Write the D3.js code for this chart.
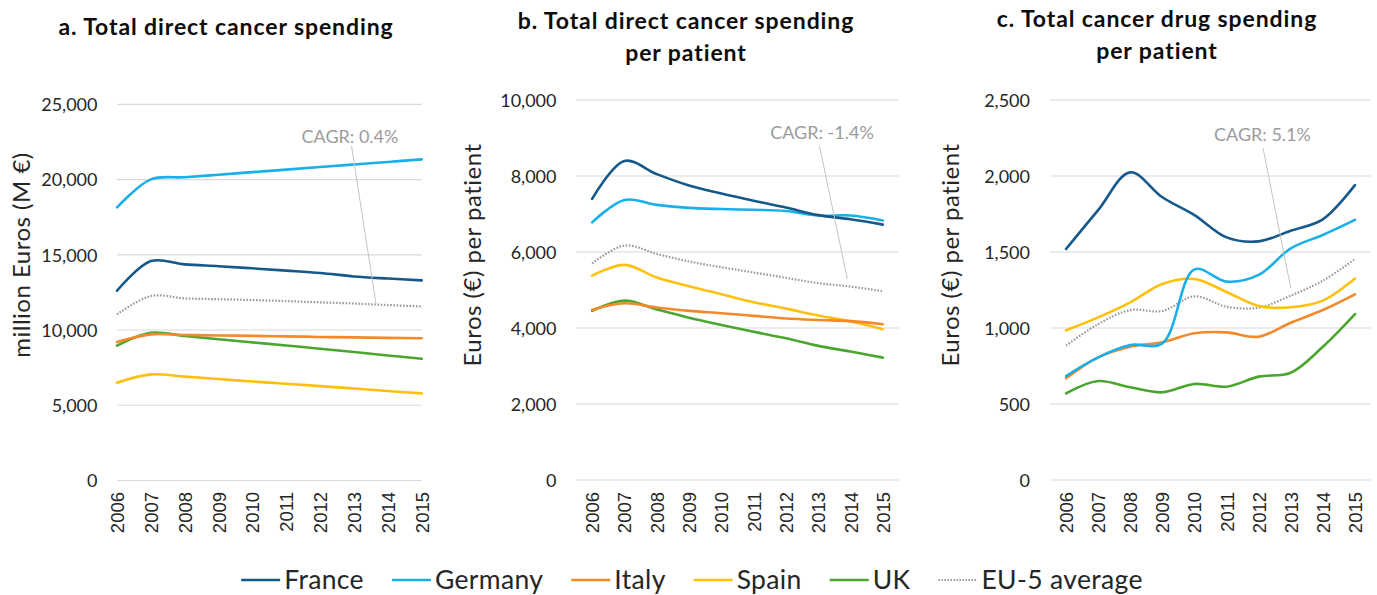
<!DOCTYPE html>
<html>
<head>
<meta charset="utf-8">
<script src="https://cdn.jsdelivr.net/npm/d3@7"></script>
<style>
  html, body { margin: 0; padding: 0; background: #fff; }
  svg { display: block; }
</style>
</head>
<body>
<svg id="chart" width="1377" height="595"></svg>
<script>
// ---- Data ----
const years = ["2006","2007","2008","2009","2010","2011","2012","2013","2014","2015"];
const seriesNames = ["France","Germany","Italy","Spain","UK","EU-5 average"];

// a. Total direct cancer spending (million €)
const totalFrance  = [12610,14580,14360,14240,14100,13950,13790,13560,13420,13300];
const totalGermany = [18150,20010,20150,20320,20490,20660,20830,21000,21170,21340];
const totalItaly   = [9200,9710,9670,9640,9610,9580,9540,9510,9480,9450];
const totalSpain   = [6500,7050,6900,6740,6580,6430,6270,6110,5950,5790];
const totalUK      = [8960,9820,9600,9390,9180,8970,8760,8540,8310,8090];
const totalEU5     = [11040,12260,12100,12050,11990,11920,11840,11760,11660,11570];

// b. Total direct cancer spending per patient (€)
const perPatFrance  = [7400,8395,8050,7750,7540,7350,7170,6970,6860,6720];
const perPatGermany = [6780,7370,7240,7160,7130,7110,7080,6960,6960,6830];
const perPatItaly   = [4480,4650,4540,4450,4390,4320,4250,4210,4180,4100];
const perPatSpain   = [5380,5660,5330,5100,4890,4680,4510,4330,4170,3970];
const perPatUK      = [4450,4720,4490,4270,4080,3900,3730,3530,3380,3220];
const perPatEU5     = [5700,6170,5950,5750,5600,5460,5320,5180,5090,4970];

// c. Total cancer drug spending per patient (€)
const drugFrance  = [1520,1776,2024,1860,1743,1596,1570,1640,1715,1940];
const drugGermany = [684,807,888,899,1386,1305,1349,1524,1612,1711];
const drugItaly   = [669,807,877,906,965,971,943,1035,1118,1221];
const drugSpain   = [985,1070,1169,1290,1322,1237,1145,1136,1180,1325];
const drugUK      = [570,651,610,577,632,614,680,706,877,1092];
const drugEU5     = [884,1026,1118,1112,1208,1140,1134,1213,1311,1454];

const ticksA = [0,5000,10000,15000,20000,25000];
const ticksB = [0,2000,4000,6000,8000,10000];
const ticksC = [0,500,1000,1500,2000,2500];

const cagrLabels = ["CAGR: 0.4%", "CAGR: -1.4%", "CAGR: 5.1%"];

// ---- Styles ----
const colors = {
  "France": "#14598a",
  "Germany": "#1aafe8",
  "Italy": "#f4892b",
  "Spain": "#fec00f",
  "UK": "#4ba630",
  "EU-5 average": "#9a9a9a"
};
const TEXT = "#262626";
const GRID = "#d9d9d9";
const FONT = "Lato, 'Open Sans', sans-serif";
const XFONT = "'Liberation Sans', Arial, sans-serif";

const panels = [
  {
    title: ["a. Total direct cancer spending"], titleX: 226, titleY: 35,
    yTitle: "million Euros (M €)", yTitleX: 30,
    series: [totalFrance,totalGermany,totalItaly,totalSpain,totalUK,totalEU5],
    ticks: ticksA, yMax: 25000, yRange: [480.5, 104.3],
    xRange: [117, 421.7], xPad: 0, labelRight: 97.5,
    cagr: cagrLabels[0], cagrX: 350, cagrY: 143,
    leaderFrom: [351.5, 146], leaderTo: [7.65, 11760]
  },
  {
    title: ["b. Total direct cancer spending", "per patient"], titleX: 686, titleY: 29,
    yTitle: "Euros (€) per patient", yTitleX: 481,
    series: [perPatFrance,perPatGermany,perPatItaly,perPatSpain,perPatUK,perPatEU5],
    ticks: ticksB, yMax: 10000, yRange: [480, 100],
    xRange: [576, 899], xPad: 0.5, labelRight: 556.5,
    cagr: cagrLabels[1], cagrX: 822, cagrY: 139,
    leaderFrom: [819.5, 146], leaderTo: [7.9, 5290]
  },
  {
    title: ["c. Total cancer drug spending", "per patient"], titleX: 1157, titleY: 27,
    yTitle: "Euros (€) per patient", yTitleX: 958.5,
    series: [drugFrance,drugGermany,drugItaly,drugSpain,drugUK,drugEU5],
    ticks: ticksC, yMax: 2500, yRange: [480, 100],
    xRange: [1050, 1371], xPad: 0.5, labelRight: 1030,
    cagr: cagrLabels[2], cagrX: 1262.5, cagrY: 140.5,
    leaderFrom: [1263, 148], leaderTo: [7.0, 1262]
  }
];

const svg = d3.select("#chart");

panels.forEach(p => {
  const g = svg.append("g");
  const x = d3.scalePoint().domain(years).range(p.xRange).padding(p.xPad);
  const y = d3.scaleLinear().domain([0, p.yMax]).range(p.yRange);
  const gridLeft = p.xRange[0], gridRight = p.xRange[1];

  // horizontal gridlines
  g.append("g").selectAll("line").data(p.ticks).join("line")
    .attr("x1", gridLeft).attr("x2", gridRight)
    .attr("y1", d => y(d)).attr("y2", d => y(d))
    .attr("stroke", GRID).attr("stroke-width", 1.2);

  // y axis tick labels
  const yAxis = d3.axisLeft(y).tickValues(p.ticks).tickSize(0).tickPadding(0)
    .tickFormat(d3.format(","));
  const ya = g.append("g").attr("transform", `translate(${p.labelRight},0)`).call(yAxis);
  ya.select(".domain").remove();
  ya.selectAll("text").attr("font-family", FONT).attr("font-size", 18)
    .attr("fill", TEXT).attr("dy", "0.35em");

  // x axis (rotated year labels)
  const xAxis = d3.axisBottom(x).tickSize(0).tickPadding(0);
  const xa = g.append("g").attr("transform", `translate(0,492)`).call(xAxis);
  xa.select(".domain").remove();
  xa.selectAll("text")
    .attr("font-family", XFONT).attr("font-size", 18.5).attr("fill", TEXT)
    .attr("text-anchor", "end").attr("dy", "0.35em").attr("y", 0)
    .attr("transform", "rotate(-90)");

  // series lines
  const line = d3.line()
    .x((d, i) => x(years[i]))
    .y(d => y(d))
    .curve(d3.curveCatmullRom.alpha(0.5));
  // draw EU average first, then countries in reverse order so France sits on top
  const order = [5, 4, 3, 2, 1, 0];
  order.forEach(k => {
    const name = seriesNames[k];
    const path = g.append("path")
      .datum(p.series[k])
      .attr("d", line)
      .attr("fill", "none")
      .attr("stroke", colors[name])
      .attr("stroke-linejoin", "round");
    if (name === "EU-5 average") {
      path.attr("stroke-width", 2.2).attr("stroke-dasharray", "1.6,1.6");
    } else {
      path.attr("stroke-width", 2.6).attr("stroke-linecap", "round");
    }
  });

  // CAGR annotation with leader line
  const fx = d3.scaleLinear().domain([0, years.length - 1])
    .range([x(years[0]), x(years[years.length - 1])]);
  g.append("line")
    .attr("x1", p.leaderFrom[0]).attr("y1", p.leaderFrom[1])
    .attr("x2", fx(p.leaderTo[0])).attr("y2", y(p.leaderTo[1]))
    .attr("stroke", "#c4c4c4").attr("stroke-width", 1);
  g.append("text")
    .attr("x", p.cagrX).attr("y", p.cagrY)
    .attr("text-anchor", "middle")
    .attr("font-family", FONT).attr("font-size", 18)
    .attr("fill", "#9c9c9c")
    .text(p.cagr);

  // panel title
  p.title.forEach((t, i) => {
    g.append("text")
      .attr("x", p.titleX).attr("y", p.titleY + i * 32)
      .attr("text-anchor", "middle")
      .attr("font-family", FONT).attr("font-weight", 700).attr("font-size", 23)
      .attr("letter-spacing", "0.9px")
      .attr("fill", "#0d0d0d")
      .text(t);
  });

  // y axis title
  g.append("text")
    .attr("transform", `translate(${p.yTitleX},255) rotate(-90)`)
    .attr("text-anchor", "middle")
    .attr("font-family", FONT).attr("font-size", 24)
    .attr("letter-spacing", "0.5px")
    .attr("fill", TEXT)
    .text(p.yTitle);
});

// ---- Legend ----
const legend = svg.append("g");
const swatchW = 39, swatchGap = 4, itemGap = 28, legendY = 580;
let cursor = 0;
const items = [];
seriesNames.forEach(name => {
  const item = legend.append("g");
  const sw = item.append("line")
    .attr("x1", 0).attr("x2", swatchW).attr("y1", 0).attr("y2", 0)
    .attr("stroke", colors[name]);
  if (name === "EU-5 average") {
    sw.attr("stroke-width", 2).attr("stroke-dasharray", "1.5,1.5");
  } else {
    sw.attr("stroke-width", 2.6);
  }
  const txt = item.append("text")
    .attr("x", swatchW + swatchGap).attr("y", 0).attr("dy", "0.35em")
    .attr("font-family", FONT).attr("font-size", 26.5).attr("letter-spacing", "0.35px")
    .attr("fill", TEXT)
    .text(name);
  const w = swatchW + swatchGap + txt.node().getComputedTextLength();
  items.push({ item, start: cursor });
  cursor += w + itemGap;
});
const totalW = cursor - itemGap;
const legendStart = 692 - totalW / 2;
items.forEach(d => d.item.attr("transform", `translate(${legendStart + d.start},${legendY})`));
</script>
</body>
</html>
